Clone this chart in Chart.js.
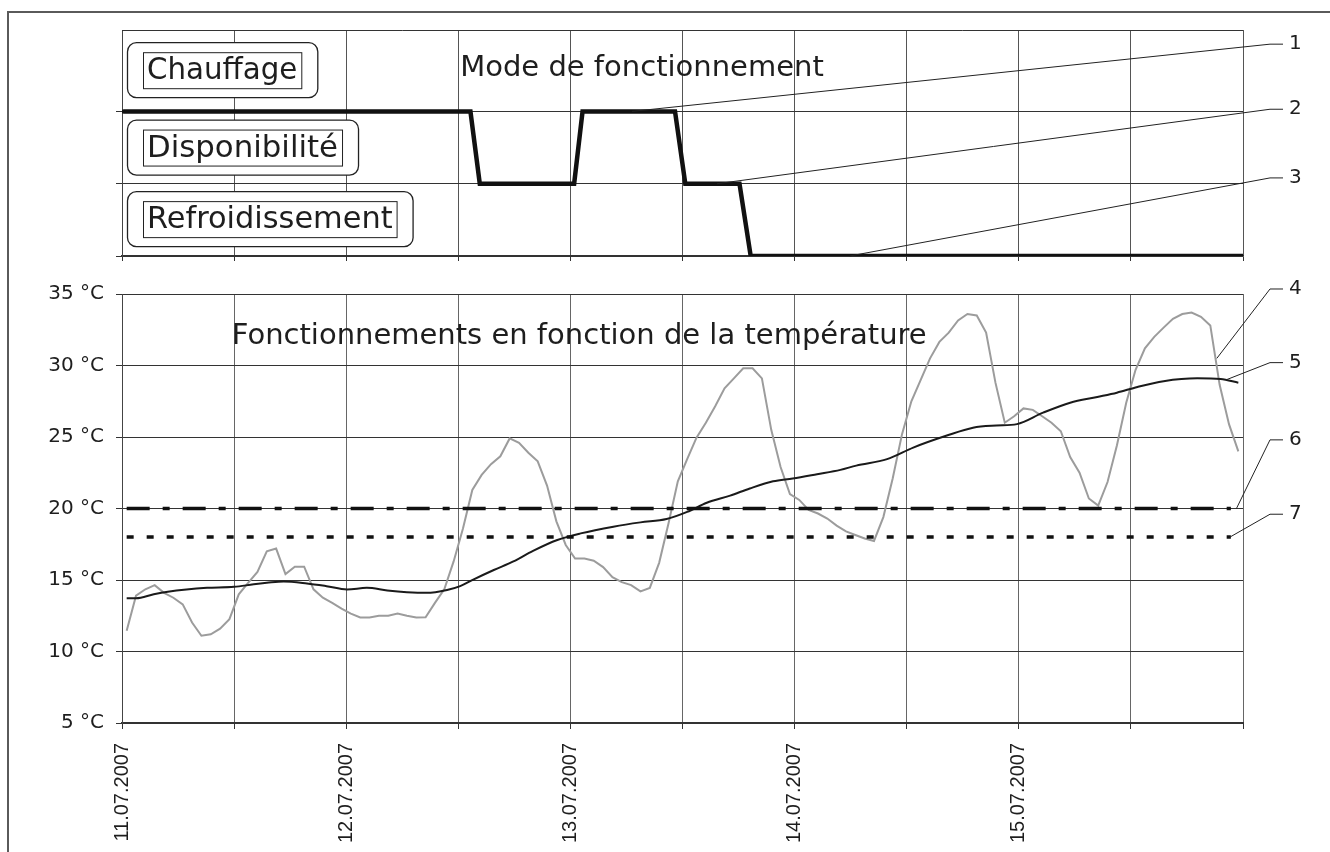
<!DOCTYPE html>
<html><head><meta charset="utf-8">
<script src="https://cdn.jsdelivr.net/npm/chart.js@4.4.1/dist/chart.umd.min.js"></script>
<style>
html,body{margin:0;padding:0;background:#fff;}
#page{position:relative;width:1330px;height:852px;overflow:hidden;background:#fff;}
#frame{position:absolute;left:7px;top:11px;width:1340px;height:860px;border-left:2px solid #5a5a5a;border-top:2px solid #5a5a5a;}
#c1{position:absolute;left:0;top:0;}
#c2{position:absolute;left:0;top:270px;}
</style></head><body>
<div id="page"><div id="frame"></div>
<canvas id="c1" width="1330" height="270"></canvas>
<canvas id="c2" width="1330" height="582"></canvas></div>
<script>
// ---------- DATA ----------
const dateLabels = ['11.07.2007','12.07.2007','13.07.2007','14.07.2007','15.07.2007'];
const modeNames = ['Refroidissement','Disponibilité','Chauffage']; // levels 0,1,2
const modeTitle = 'Mode de fonctionnement';
const tempTitle = 'Fonctionnements en fonction de la température';

// operating mode (hours since 11.07.2007 00:00, level)
const modeHours  = [0.2, 37.3, 38.3, 48.4, 49.3, 59.2, 60.3, 66.1, 67.3, 119.9];
const modeLevels = [2,   2,    1,    1,    2,    2,    1,    1,    0,    0];

// outdoor temperature (hourly, starting at 0.5 h)
const outdoorStart = 0.5;
const outdoorTemps = [
 11.45,13.9,14.35,14.64,14.1,13.76,13.3,12.03,11.1,11.2,11.6,12.26,
 14.0,14.8,15.56,17.0,17.2,15.42,15.93,15.93,14.35,13.76,13.4,13.0,
 12.65,12.38,12.38,12.5,12.5,12.65,12.5,12.38,12.4,13.4,14.35,16.3,
 18.6,21.3,22.35,23.1,23.65,24.9,24.6,23.9,23.3,21.6,19.1,17.45,
 16.5,16.5,16.35,15.9,15.2,14.85,14.64,14.2,14.45,16.2,18.95,21.9,
 23.45,24.95,26.0,27.15,28.4,29.1,29.8,29.8,29.1,25.5,22.9,21.0,
 20.6,19.9,19.65,19.3,18.8,18.4,18.15,17.9,17.73,19.4,22.1,25.2,
 27.5,29.0,30.5,31.65,32.3,33.15,33.6,33.5,32.3,28.8,26.0,26.45,
 27.0,26.9,26.45,26.0,25.4,23.6,22.5,20.7,20.2,21.85,24.4,27.4,
 29.7,31.2,32.0,32.65,33.27,33.6,33.7,33.4,32.8,28.65,25.9,24.0
];

// averaged temperature
const avgHours = [0.5,1.5,3.4,4.9,6.9,9.1,12,14.1,15.5,17.3,19.8,21.9,24.1,26.2,28.4,30.5,32.6,34.8,36.2,37.6,39.8,41.9,44.0,46.6,49.1,52.6,55.5,58.3,60.5,62.6,65.1,67.2,69.7,71.8,74.4,76.9,78.6,81.9,84.7,88.3,91.1,93.6,95.8,98.6,101.5,104.4,106.5,108.7,111.5,115.1,117.6,119.5];
const avgTemps = [13.72,13.72,14.0,14.18,14.34,14.45,14.52,14.7,14.8,14.9,14.76,14.57,14.34,14.45,14.27,14.15,14.1,14.3,14.57,15.03,15.7,16.3,17.04,17.8,18.26,18.73,19.03,19.26,19.76,20.4,20.9,21.4,21.9,22.1,22.4,22.7,23.0,23.45,24.26,25.1,25.65,25.8,25.9,26.7,27.4,27.8,28.1,28.5,28.9,29.1,29.05,28.8];

// set points
const limitHours = [0.5, 118.7];
const limit6 = [20, 20];
const limit7 = [18, 18];

// callout markers
const topCallouts = ['1','2','3'];
const bottomCallouts = ['4','5','6','7'];

// ---------- HELPERS ----------
const FONT = '"DejaVu Sans"';
const LABEL_FONT = '"Liberation Sans"';
const toXY = (xs, ys) => xs.map((x,i)=>({x:x, y:ys[i]}));
const outdoorPts = outdoorTemps.map((t,i)=>({x:outdoorStart+i, y:t}));

const decoPlugin = {
  id: 'deco',
  afterDatasetsDraw(chart, args, opts) {
    const ctx = chart.ctx, a = chart.chartArea;
    const xs = chart.scales.x, ys = chart.scales.y;
    ctx.save();
    if (opts.topBorder) {
      ctx.strokeStyle = '#333'; ctx.lineWidth = 1;
      ctx.beginPath(); ctx.moveTo(a.left, a.top+0.5); ctx.lineTo(a.right, a.top+0.5); ctx.stroke();
    }
    ctx.fillStyle = '#1e1e1e';
    ctx.textBaseline = 'middle';
    (opts.titles||[]).forEach(t => {
      ctx.font = t.size + 'px ' + FONT;
      ctx.textAlign = 'left';
      ctx.fillText(t.text, xs.getPixelForValue(t.x), ys.getPixelForValue(t.y));
    });
    (opts.boxes||[]).forEach(b => {
      ctx.font = b.size + 'px ' + FONT;
      const tw = ctx.measureText(b.text).width;
      const cy = ys.getPixelForValue(b.y);
      const ox = a.left + 5, ow = tw + 8 + 32, oh = 55;
      ctx.fillStyle = '#fff';
      ctx.strokeStyle = '#222'; ctx.lineWidth = 1.3;
      ctx.beginPath(); ctx.roundRect(ox+0.5, cy-oh/2, ow, oh, 9); ctx.fill(); ctx.stroke();
      ctx.lineWidth = 1;
      ctx.strokeRect(ox+16.5, cy-18+0.5, tw+8, 36);
      ctx.fillStyle = '#1e1e1e';
      ctx.textAlign = 'left';
      ctx.fillText(b.text, ox+20, cy+1);
    });
    (opts.callouts||[]).forEach(c => {
      const ax = xs.getPixelForValue(c.x), ay = ys.getPixelForValue(c.y);
      const ly = ys.getPixelForValue(c.ly);
      const kx = a.right + 27;
      ctx.strokeStyle = '#222'; ctx.lineWidth = 1;
      ctx.beginPath(); ctx.moveTo(ax, ay); ctx.lineTo(kx, ly); ctx.lineTo(kx+13, ly); ctx.stroke();
      ctx.font = '20px ' + FONT; ctx.textAlign = 'left'; ctx.fillStyle = '#1e1e1e';
      ctx.fillText(c.text, kx+19, ly);
    });
    ctx.restore();
  }
};

// ---------- TOP CHART ----------
new Chart(document.getElementById('c1'), {
  type: 'line',
  data: { datasets: [{
    data: toXY(modeHours, modeLevels),
    borderColor: '#111', borderWidth: 4.5, pointRadius: 0, tension: 0,
    borderJoinStyle: 'miter', borderCapStyle: 'round'
  }]},
  options: {
    responsive: false, animation: false, devicePixelRatio: 1,
    layout: { padding: { top: 30, right: 87, left: 0, bottom: 0 } },
    plugins: { legend: {display:false}, tooltip: {enabled:false},
      deco: {
        topBorder: true,
        titles: [{text: modeTitle, x: 36.2, y: 2.6, size: 29}],
        boxes: [
          {text: modeNames[2], y: 2.57, size: 29.3},
          {text: modeNames[1], y: 1.5, size: 30.8},
          {text: modeNames[0], y: 0.51, size: 30.4}
        ],
        callouts: [
          {text: topCallouts[0], x: 54.6, y: 2, ly: 2.93},
          {text: topCallouts[1], x: 63.7, y: 1, ly: 2.03},
          {text: topCallouts[2], x: 77.9, y: 0, ly: 1.08}
        ]
      }
    },
    scales: {
      x: { type: 'linear', min: 0, max: 120,
        afterBuildTicks: s => { s.ticks = []; for (let v=0; v<=120; v+=12) s.ticks.push({value:v}); },
        afterFit: s => { s.height = 14; },
        ticks: { callback: () => '', autoSkip: false },
        grid: { color: '#555', lineWidth: 1, tickLength: 5, tickColor: '#333' },
        border: { color: '#333', width: 1.5 }
      },
      y: { min: 0, max: 3.126,
        afterBuildTicks: s => { s.ticks = [{value:0},{value:1},{value:2}]; },
        afterFit: s => { s.width = 122; },
        ticks: { callback: () => '', autoSkip: false },
        grid: { color: '#333', lineWidth: 1, tickLength: 6, tickColor: '#333' },
        border: { color: '#444', width: 1 }
      }
    }
  },
  plugins: [decoPlugin]
});

// ---------- BOTTOM CHART ----------
new Chart(document.getElementById('c2'), {
  type: 'line',
  data: { datasets: [
    { data: outdoorPts, borderColor: '#9c9c9c', borderWidth: 2, pointRadius: 0, tension: 0, order: 4 },
    { data: toXY(avgHours, avgTemps), borderColor: '#1a1a1a', borderWidth: 2, pointRadius: 0, cubicInterpolationMode: 'monotone', order: 3 },
    { data: toXY(limitHours, limit6), borderColor: '#111', borderWidth: 3.5, pointRadius: 0, borderDash: [23,13,7,13], borderCapStyle: 'butt', order: 2 },
    { data: toXY(limitHours, limit7), borderColor: '#111', borderWidth: 3.5, pointRadius: 0, borderDash: [7,13], borderCapStyle: 'butt', order: 1 }
  ]},
  options: {
    responsive: false, animation: false, devicePixelRatio: 1,
    layout: { padding: { top: 20, right: 87, left: 0, bottom: 0 } },
    plugins: { legend: {display:false}, tooltip: {enabled:false},
      deco: {
        titles: [{text: tempTitle, x: 11.75, y: 32.06, size: 29}],
        callouts: [
          {text: bottomCallouts[0], x: 117.2, y: 30.5, ly: 35.35},
          {text: bottomCallouts[1], x: 118.2, y: 29.0, ly: 30.2},
          {text: bottomCallouts[2], x: 119.3, y: 20, ly: 24.8},
          {text: bottomCallouts[3], x: 118.6, y: 18, ly: 19.6}
        ]
      }
    },
    scales: {
      x: { type: 'linear', min: 0, max: 120,
        afterBuildTicks: s => { s.ticks = []; for (let v=0; v<=120; v+=12) s.ticks.push({value:v}); },
        afterFit: s => { s.height = 129; },
        ticks: { autoSkip: false, minRotation: 90, maxRotation: 90, padding: 14,
          font: { family: LABEL_FONT, size: 20 }, color: '#1e1e1e',
          callback: v => (v % 24 === 0 && v/24 < dateLabels.length) ? dateLabels[v/24] : '' },
        grid: { color: '#666', lineWidth: 1, tickLength: 6, tickColor: '#333' },
        border: { color: '#333', width: 2 }
      },
      y: { min: 5, max: 35,
        afterBuildTicks: s => { s.ticks = []; for (let v=5; v<=35; v+=5) s.ticks.push({value:v}); },
        afterFit: s => { s.width = 122; },
        ticks: { autoSkip: false, padding: 12, font: { family: FONT, size: 20 }, color: '#1e1e1e',
          callback: v => v + ' °C' },
        grid: { color: '#333', lineWidth: 1, tickLength: 6, tickColor: '#333' },
        border: { color: '#444', width: 1 }
      }
    }
  },
  plugins: [decoPlugin]
});
</script>
</body></html>
